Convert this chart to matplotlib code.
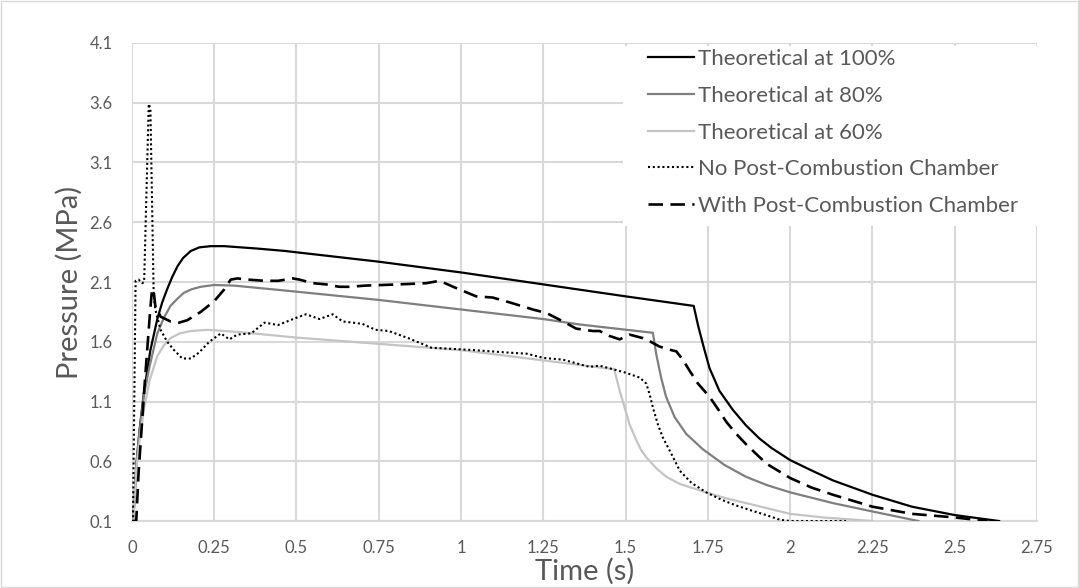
import matplotlib
matplotlib.use('Agg')
import matplotlib.pyplot as plt
from matplotlib.patches import Rectangle

# Theoretical curves (time s, pressure MPa)
t_100 = [0.0, 0.004, 0.013, 0.023, 0.036, 0.056, 0.077, 0.092, 0.107, 0.122, 0.138, 0.155,
         0.179, 0.205, 0.24, 0.28, 0.38, 0.464, 0.75, 1.0, 1.25, 1.5, 1.707, 1.72, 1.735,
         1.755, 1.785, 1.826, 1.866, 1.907, 1.944, 2.0, 2.06, 2.13, 2.19, 2.25, 2.37, 2.5,
         2.635]
p_100 = [0.1, 0.1, 0.56, 0.86, 1.17, 1.53, 1.79, 1.93, 2.04, 2.14, 2.23, 2.30,
         2.36, 2.39, 2.40, 2.40, 2.38, 2.36, 2.27, 2.18, 2.08, 1.98, 1.90, 1.74, 1.58,
         1.38, 1.19, 1.03, 0.90, 0.79, 0.71, 0.61, 0.53, 0.44, 0.38, 0.32, 0.22, 0.15,
         0.10]

t_80 = [0.0, 0.004, 0.013, 0.023, 0.036, 0.054, 0.077, 0.097, 0.117, 0.138, 0.158, 0.182,
        0.209, 0.25, 0.31, 0.46, 0.75, 1.0, 1.25, 1.359, 1.583, 1.593, 1.608, 1.623, 1.649,
        1.684, 1.735, 1.80, 1.866, 1.93, 2.0, 2.13, 2.25, 2.39]
p_80 = [0.1, 0.1, 0.56, 0.85, 1.15, 1.40, 1.67, 1.80, 1.90, 1.96, 2.01, 2.04,
        2.06, 2.075, 2.07, 2.03, 1.95, 1.87, 1.79, 1.745, 1.675, 1.50, 1.30, 1.14, 0.97,
        0.83, 0.70, 0.57, 0.47, 0.40, 0.34, 0.25, 0.18, 0.10]

t_60 = [0.0, 0.004, 0.013, 0.023, 0.038, 0.054, 0.077, 0.097, 0.117, 0.145, 0.179, 0.23,
        0.33, 0.5, 1.0, 1.465, 1.472, 1.482, 1.497, 1.512, 1.532, 1.548, 1.564, 1.594,
        1.624, 1.665, 1.745, 1.805, 1.866, 2.0, 2.1, 2.25]
p_60 = [0.1, 0.1, 0.53, 0.77, 1.06, 1.28, 1.48, 1.57, 1.63, 1.67, 1.69, 1.70,
        1.68, 1.635, 1.53, 1.37, 1.30, 1.19, 1.05, 0.91, 0.78, 0.69, 0.63, 0.54,
        0.47, 0.41, 0.34, 0.29, 0.25, 0.16, 0.13, 0.10]

# Measured curves
t_no = [0.0, 0.003, 0.011, 0.02, 0.031, 0.037, 0.051, 0.056, 0.066, 0.071, 0.087, 0.107,
        0.128, 0.153, 0.179, 0.204, 0.235, 0.27, 0.296, 0.32, 0.362, 0.403, 0.444, 0.499,
        0.529, 0.57, 0.61, 0.64, 0.70, 0.74, 0.78, 0.84, 0.91, 0.976, 1.04, 1.14, 1.20,
        1.25, 1.31, 1.39, 1.421, 1.462, 1.502, 1.543, 1.563, 1.573, 1.583, 1.598, 1.613,
        1.634, 1.665, 1.70, 1.745, 1.79, 1.836, 1.88, 1.927, 1.97, 2.0, 2.17]
p_no = [0.1, 0.1, 2.11, 2.12, 2.09, 2.10, 3.59, 3.55, 2.0, 1.87, 1.70, 1.60,
        1.53, 1.46, 1.46, 1.51, 1.60, 1.67, 1.62, 1.66, 1.67, 1.76, 1.74, 1.80,
        1.83, 1.79, 1.83, 1.77, 1.75, 1.70, 1.69, 1.63, 1.55, 1.54, 1.53, 1.51, 1.50,
        1.465, 1.45, 1.39, 1.40, 1.37, 1.34, 1.30, 1.25, 1.16, 1.05, 0.91, 0.80,
        0.69, 0.52, 0.42, 0.34, 0.28, 0.23, 0.19, 0.15, 0.11, 0.10, 0.10]

t_with = [0.0, 0.013, 0.02, 0.04, 0.055, 0.061, 0.066, 0.071, 0.087, 0.117, 0.143, 0.168,
          0.209, 0.25, 0.281, 0.30, 0.32, 0.352, 0.403, 0.444, 0.489, 0.509, 0.55, 0.59,
          0.63, 0.66, 0.71, 0.81, 0.894, 0.935, 0.976, 1.046, 1.096, 1.147, 1.218, 1.26,
          1.31, 1.35, 1.40, 1.421, 1.45, 1.482, 1.512, 1.553, 1.573, 1.603, 1.639, 1.654,
          1.674, 1.694, 1.72, 1.755, 1.78, 1.806, 1.836, 1.867, 1.928, 2.0, 2.065, 2.13,
          2.25, 2.37, 2.5, 2.6]
p_with = [0.1, 0.1, 0.5, 1.3, 1.85, 2.04, 2.02, 1.90, 1.81, 1.77, 1.76, 1.78,
          1.85, 1.94, 2.04, 2.12, 2.13, 2.12, 2.11, 2.11, 2.13, 2.12, 2.09, 2.08,
          2.06, 2.06, 2.07, 2.08, 2.09, 2.11, 2.06, 1.98, 1.97, 1.93, 1.87, 1.84,
          1.77, 1.71, 1.69, 1.69, 1.65, 1.62, 1.66, 1.63, 1.605, 1.56, 1.53, 1.52,
          1.45, 1.36, 1.25, 1.14, 1.04, 0.93, 0.83, 0.74, 0.58, 0.46, 0.38, 0.32,
          0.22, 0.16, 0.13, 0.10]

x_ticks = [0, 0.25, 0.5, 0.75, 1, 1.25, 1.5, 1.75, 2, 2.25, 2.5, 2.75]
x_labels = ['0', '0.25', '0.5', '0.75', '1', '1.25', '1.5', '1.75', '2', '2.25', '2.5', '2.75']
y_ticks = [0.1, 0.6, 1.1, 1.6, 2.1, 2.6, 3.1, 3.6, 4.1]
y_labels = ['0.1', '0.6', '1.1', '1.6', '2.1', '2.6', '3.1', '3.6', '4.1']

plt.rcParams['font.family'] = ['Lato', 'DejaVu Sans']
text_color = '#595959'
grid_color = '#d9d9d9'

fig = plt.figure(figsize=(10.79, 5.88), dpi=100)
ax = fig.add_axes([0.1223, 0.1139, 0.8387, 0.813])

ax.plot(t_100, p_100, color='#000000', lw=1.6, label='Theoretical at 100%', zorder=3)
ax.plot(t_80, p_80, color='#7f7f7f', lw=1.6, label='Theoretical at 80%', zorder=3)
ax.plot(t_60, p_60, color='#c4c4c4', lw=1.6, label='Theoretical at 60%', zorder=3)
ax.plot(t_no, p_no, color='#000000', lw=1.5, linestyle=(0, (1, 1.3)),
        label='No Post-Combustion Chamber', zorder=4)
ax.plot(t_with, p_with, color='#000000', lw=1.9, linestyle=(0, (5.5, 2.8)),
        label='With Post-Combustion Chamber', zorder=5)

ax.set_xlim(0, 2.75)
ax.set_ylim(0.1, 4.1)
ax.set_xticks(x_ticks)
ax.set_xticklabels(x_labels)
ax.set_yticks(y_ticks)
ax.set_yticklabels(y_labels)
ax.tick_params(axis='both', length=0, labelsize=12, labelcolor=text_color)
ax.tick_params(axis='x', pad=14)
ax.tick_params(axis='y', pad=14)

ax.set_axisbelow(True)
ax.grid(True, color=grid_color, lw=1.5)
for side in ['top', 'right', 'left']:
    ax.spines[side].set_visible(False)
ax.spines['bottom'].set_color(grid_color)
ax.spines['bottom'].set_linewidth(1.5)

ax.set_xlabel('Time (s)', fontsize=21, color=text_color, labelpad=1)
ax.set_ylabel('Pressure (MPa)', fontsize=21, color=text_color, labelpad=5)

# white box behind the legend hides the grid
ax.add_patch(Rectangle((0.5425, 0.618), 0.4575, 0.376, transform=ax.transAxes,
                       facecolor='white', edgecolor='none', zorder=1))
leg = ax.legend(loc='upper left', bbox_to_anchor=(0.570, 0.987), frameon=False,
                fontsize=16, handlelength=2.1, handletextpad=0.15,
                labelspacing=0.75, borderpad=0, borderaxespad=0)
for txt in leg.get_texts():
    txt.set_color(text_color)

# chart area border
fig.patches.append(Rectangle((0.001, 0.001), 0.998, 0.997, transform=fig.transFigure,
                             facecolor='none', edgecolor=grid_color, lw=1))

fig.savefig('out.png', dpi=100)
plt.close(fig)
